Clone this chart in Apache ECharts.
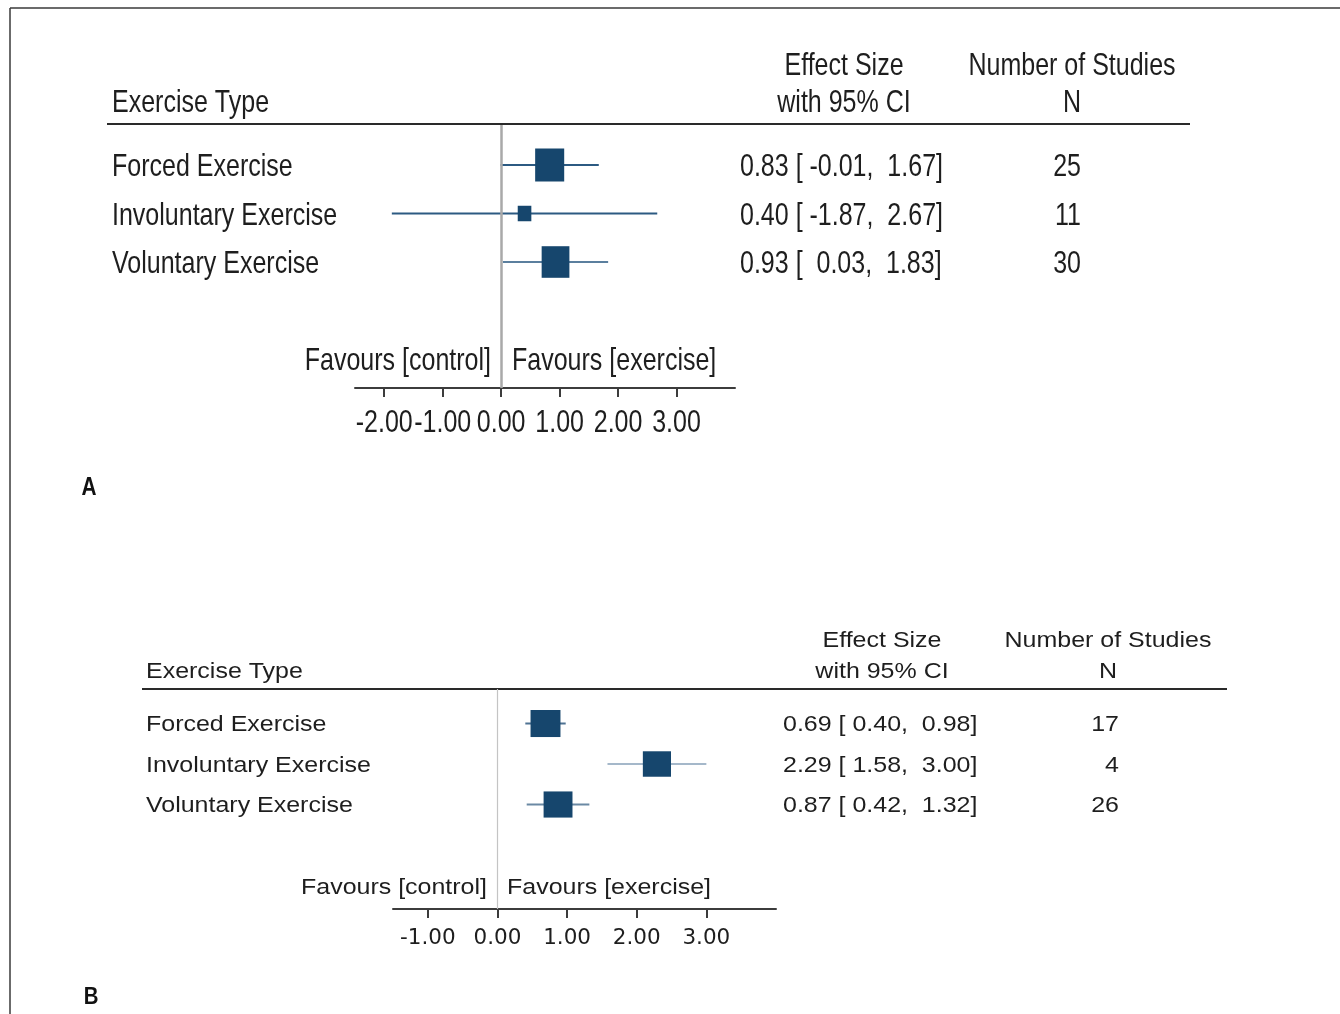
<!DOCTYPE html>
<html>
<head>
<meta charset="utf-8">
<title>Effect of exercise type – forest plots</title>
<script src="https://cdn.jsdelivr.net/npm/echarts@6/dist/echarts.min.js"></script>
<style>
  html, body { margin: 0; padding: 0; background: #ffffff; }
  #chart { width: 1340px; height: 1014px; }
</style>
</head>
<body>
<div id="chart"></div>
<script>
// ---- Panel A ----
const typesA   = ['Forced Exercise', 'Involuntary Exercise', 'Voluntary Exercise'];
const effectA  = [0.83, 0.40, 0.93];
const lowerA   = [-0.01, -1.87, 0.03];
const upperA   = [1.67, 2.67, 1.83];
const studiesA = [25, 11, 30];
const weightA  = [46.9, 10.3, 42.8];      // relative weight (%), sets box area
const ticksA   = [-2, -1, 0, 1, 2, 3];

// ---- Panel B ----
const typesB   = ['Forced Exercise', 'Involuntary Exercise', 'Voluntary Exercise'];
const effectB  = [0.69, 2.29, 0.87];
const lowerB   = [0.40, 1.58, 0.42];
const upperB   = [0.98, 3.00, 1.32];
const studiesB = [17, 4, 26];
const weightB  = [35.5, 31.4, 33.1];
const ticksB   = [-1, 0, 1, 2, 3];

const FONT = "'Liberation Sans', Arial, Helvetica, sans-serif";
const INK = '#1e1e1e';
const BOX = '#16466d';

// layout / style of each panel
const styleA = {
  font: 30.5, sx: 0.82, dy: 3, nameX: 112, ciX: 740, nX: 1081,
  side: 30.9, aspect: [0.94, 1.07],
  whisker: ['#2c5a82', '#2c5a82', '#5b7f9e'], whiskerWidth: 2.2
};
const styleB = {
  font: 22.5, sx: 1.11, dy: 1.5, nameX: 146, ciX: 783, nX: 1119,
  side: 28.5, aspect: [1.05, 0.95],
  whisker: ['#4f7393', '#a5b8ca', '#6b89a4'], whiskerWidth: 2.2
};

// vertical extent of each panel's row scale (rows sit at 0, 1, 2)
const rowRangeA = [-0.825, 4.598];
const rowRangeB = [-0.852, 4.580];

const fmt = v => Number(v).toFixed(2);
function ciText(est, lo, hi, padW) {
  return fmt(est) + ' [ ' + fmt(lo).padStart(padW) + ',  ' + fmt(hi) + ']';
}

function buildRows(types, est, lo, hi, n, w) {
  const padW = Math.max.apply(null, lo.map(v => fmt(v).length));
  return types.map((t, i) => ({
    name: t,
    value: [est[i], lo[i], hi[i], i, w[i], n[i]],
    ci: ciText(est[i], lo[i], hi[i], padW)
  }));
}
const rowsA = buildRows(typesA, effectA, lowerA, upperA, studiesA, weightA);
const rowsB = buildRows(typesB, effectB, lowerB, upperB, studiesB, weightB);

function label(text, x, y, st, align) {
  return {
    type: 'text', x: x, y: y + st.dy, scaleX: st.sx, silent: true,
    style: {
      text: text, fill: INK, fontSize: st.font, fontFamily: FONT,
      align: align || 'left', verticalAlign: 'middle'
    }
  };
}

function forestRenderer(rows, weights, st) {
  const wMax = Math.max.apply(null, weights);
  return function (params, api) {
    const i = params.dataIndex;
    const row = api.value(3);
    const pLo = api.coord([api.value(1), row]);
    const pHi = api.coord([api.value(2), row]);
    const pEst = api.coord([api.value(0), row]);
    const s = st.side * Math.sqrt(api.value(4) / wMax);
    const bw = s * st.aspect[0], bh = s * st.aspect[1];
    const y = pEst[1];
    return {
      type: 'group',
      children: [
        { type: 'line', shape: { x1: pLo[0], y1: pLo[1], x2: pHi[0], y2: pHi[1] },
          style: { stroke: st.whisker[i], lineWidth: st.whiskerWidth } },
        { type: 'rect', shape: { x: pEst[0] - bw / 2, y: y - bh / 2, width: bw, height: bh },
          style: { fill: BOX } },
        label(rows[i].name, st.nameX, y, st, 'left'),
        label(rows[i].ci, st.ciX, y, st, 'left'),
        label(String(api.value(5)), st.nX, y, st, 'right')
      ]
    };
  };
}

// tick labels of panel A, set in the same condensed face as the rest of the panel
function tickLabelRenderer(st, yBottom, offset) {
  return function (params, api) {
    const p = api.coord([api.value(0), yBottom]);
    const el = label(fmt(api.value(0)), p[0], p[1] + offset, st, 'center');
    el.y = p[1] + offset;
    return el;
  };
}

function xAxisFor(gridIndex, min, max, ticks, showLabels, labelFont, labelSize, margin) {
  return {
    gridIndex: gridIndex, type: 'value', min: min, max: max,
    axisLine: { show: true, onZero: false, lineStyle: { color: '#3c3c3c', width: 2 } },
    axisTick: { show: true, customValues: ticks, length: 9, lineStyle: { color: '#3c3c3c', width: 2 } },
    axisLabel: {
      show: showLabels, customValues: ticks, formatter: v => fmt(v), margin: margin,
      color: INK, fontSize: labelSize, fontFamily: labelFont
    },
    splitLine: { show: false }
  };
}

const headerText = [
  label('Exercise Type', 112, 101, styleA, 'left'),
  label('Effect Size', 844, 64, styleA, 'center'),
  label('with 95% CI', 844, 101, styleA, 'center'),
  label('Number of Studies', 1072, 64, styleA, 'center'),
  label('N', 1072, 101, styleA, 'center'),
  label('Favours [control]', 491, 359, styleA, 'right'),
  label('Favours [exercise]', 512, 359, styleA, 'left'),

  label('Exercise Type', 146, 670, styleB, 'left'),
  label('Effect Size', 882, 639, styleB, 'center'),
  label('with 95% CI', 882, 670, styleB, 'center'),
  label('Number of Studies', 1108, 639, styleB, 'center'),
  label('N', 1108, 670, styleB, 'center'),
  label('Favours [control]', 487, 886, styleB, 'right'),
  label('Favours [exercise]', 507, 886, styleB, 'left')
];

const panelLetters = [
  { type: 'text', x: 89, y: 488, scaleX: 0.8, silent: true,
    style: { text: 'A', fill: '#111', fontSize: 26, fontWeight: 'bold', fontFamily: FONT, align: 'center', verticalAlign: 'middle' } },
  { type: 'text', x: 91, y: 997, scaleX: 0.85, silent: true,
    style: { text: 'B', fill: '#111', fontSize: 24, fontWeight: 'bold', fontFamily: FONT, align: 'center', verticalAlign: 'middle' } }
];

const rules = [
  // outer frame edges
  { type: 'line', silent: true, shape: { x1: 10, y1: 8, x2: 1340, y2: 8 }, style: { stroke: '#3a3a3a', lineWidth: 1.5 } },
  { type: 'line', silent: true, shape: { x1: 10, y1: 8, x2: 10, y2: 1014 }, style: { stroke: '#3a3a3a', lineWidth: 1.5 } },
  // header underlines
  { type: 'line', silent: true, shape: { x1: 107, y1: 124, x2: 1190, y2: 124 }, style: { stroke: '#2a2a2a', lineWidth: 2.2 } },
  { type: 'line', silent: true, shape: { x1: 142, y1: 689, x2: 1227, y2: 689 }, style: { stroke: '#2a2a2a', lineWidth: 2.2 } }
];

const chart = echarts.init(document.getElementById('chart'), null, { renderer: 'canvas' });
chart.setOption({
  animation: false,
  backgroundColor: '#ffffff',
  grid: [
    { left: 355, top: 125, width: 380, height: 263 },
    { left: 393, top: 689, width: 383, height: 220 }
  ],
  xAxis: [
    xAxisFor(0, -2.5, 4, ticksA, false, FONT, 25, 18),
    xAxisFor(1, -1.5, 4, ticksB, true, "'DejaVu Sans', sans-serif", 21.5, 18)
  ],
  yAxis: [
    { gridIndex: 0, type: 'value', inverse: true, min: rowRangeA[0], max: rowRangeA[1], show: false },
    { gridIndex: 1, type: 'value', inverse: true, min: rowRangeB[0], max: rowRangeB[1], show: false }
  ],
  series: [
    {
      type: 'custom', name: 'A', xAxisIndex: 0, yAxisIndex: 0, clip: false,
      renderItem: forestRenderer(rowsA, weightA, styleA),
      encode: { x: [0, 1, 2], y: 3 },
      data: rowsA,
      markLine: {
        silent: true, symbol: 'none', label: { show: false },
        lineStyle: { color: '#a9a9a9', width: 2.5, type: 'solid' },
        data: [{ xAxis: 0 }]
      },
      z: 3
    },
    {
      type: 'custom', name: 'A ticks', xAxisIndex: 0, yAxisIndex: 0, clip: false, silent: true,
      renderItem: tickLabelRenderer(styleA, rowRangeA[1], 36),
      encode: { x: 0 },
      data: ticksA.map(v => [v]),
      z: 3
    },
    {
      type: 'custom', name: 'B', xAxisIndex: 1, yAxisIndex: 1, clip: false,
      renderItem: forestRenderer(rowsB, weightB, styleB),
      encode: { x: [0, 1, 2], y: 3 },
      data: rowsB,
      markLine: {
        silent: true, symbol: 'none', label: { show: false },
        lineStyle: { color: '#c4c4c4', width: 1.2, type: 'solid' },
        data: [{ xAxis: 0 }]
      },
      z: 3
    }
  ],
  graphic: { elements: rules.concat(headerText, panelLetters) }
});
</script>
</body>
</html>
